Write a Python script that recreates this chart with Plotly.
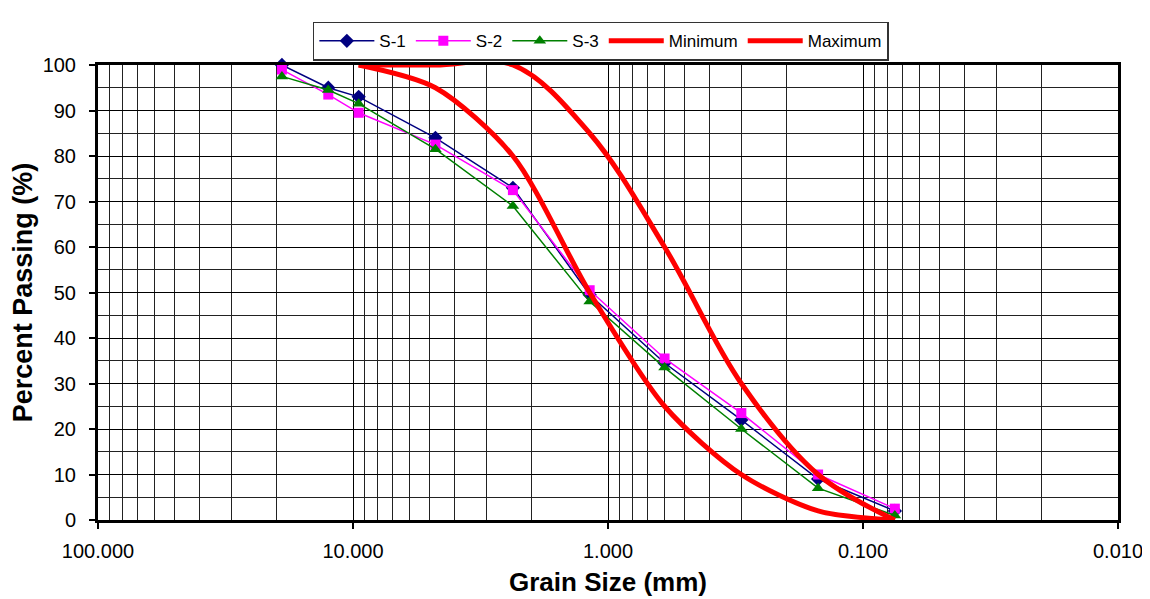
import plotly.graph_objects as go

# Sieve sizes (mm)
sieves = [19.0, 12.5, 9.5, 4.75, 2.36, 1.18, 0.6, 0.3, 0.15, 0.075]
s1 = [100, 95, 93, 84, 73, 49.5, 34.5, 22, 9, 2]
s2 = [99, 93.5, 89.5, 82.5, 72.5, 50.5, 35.5, 23.5, 10, 2.5]
s3 = [97.5, 94.5, 91.5, 81.5, 69, 48, 33.5, 20, 7, 1]

limit_sizes = [9.5, 4.75, 2.36, 1.18, 0.6, 0.3, 0.15, 0.075]
minimum = [100, 95, 80, 50, 25, 10, 2, 0]
maximum = [100, 100, 100, 85, 60, 30, 10, 0]

x_tickvals = [100, 10, 1, 0.1, 0.01]
x_ticktext = ["100.000", "10.000", "1.000", "0.100", "0.010"]
y_tickvals = list(range(0, 101, 10))

fig = go.Figure()
fig.add_trace(go.Scatter(x=sieves, y=s1, name="S-1", mode="lines+markers",
                         line=dict(color="#000080", width=1.5),
                         marker=dict(symbol="diamond", size=11, color="#000080"),
                         cliponaxis=False))
fig.add_trace(go.Scatter(x=sieves, y=s2, name="S-2", mode="lines+markers",
                         line=dict(color="#FF00FF", width=1.5),
                         marker=dict(symbol="square", size=10, color="#FF00FF"),
                         cliponaxis=False))
fig.add_trace(go.Scatter(x=sieves, y=s3, name="S-3", mode="lines+markers",
                         line=dict(color="#008000", width=1.5),
                         marker=dict(symbol="triangle-up", size=11, color="#008000"),
                         cliponaxis=False))
fig.add_trace(go.Scatter(x=limit_sizes, y=minimum, name="Minimum", mode="lines",
                         line=dict(color="#FF0000", width=5, shape="spline", smoothing=0.8)))
fig.add_trace(go.Scatter(x=limit_sizes, y=maximum, name="Maximum", mode="lines",
                         line=dict(color="#FF0000", width=5, shape="spline", smoothing=1.0)))

fig.update_layout(
    width=1150, height=599,
    margin=dict(l=80, r=40, t=57, b=87),
    paper_bgcolor="white", plot_bgcolor="white",
    font=dict(family="Liberation Sans, Arial, sans-serif", color="black"),
    showlegend=True,
    legend=dict(orientation="h", x=0.493, xanchor="center", y=1.095, yanchor="top",
                bordercolor="#333333", borderwidth=1.5, bgcolor="white",
                font=dict(size=17), itemwidth=55, tracegroupgap=0),
)
fig.update_xaxes(
    type="log", range=[2, -2],
    tickvals=x_tickvals, ticktext=x_ticktext,
    tickfont=dict(size=20),
    ticks="outside", ticklen=6, tickcolor="black", tickwidth=1.5,
    ticklabelstandoff=5,
    showgrid=True, gridcolor="black", gridwidth=1,
    minor=dict(dtick="D1", showgrid=True, gridcolor="#222222", gridwidth=1, ticks=""),
    showline=True, linecolor="black", linewidth=3, mirror=True,
    title=dict(text="<b>Grain Size (mm)</b>", font=dict(size=26), standoff=12),
    zeroline=False,
)
fig.update_yaxes(
    range=[0, 100],
    tickvals=y_tickvals,
    tickfont=dict(size=20),
    ticks="outside", ticklen=6, tickcolor="black", tickwidth=1.5,
    ticklabelstandoff=9,
    showgrid=True, gridcolor="black", gridwidth=1,
    minor=dict(dtick=5, showgrid=True, gridcolor="#222222", gridwidth=1, ticks=""),
    showline=True, linecolor="black", linewidth=3, mirror=True,
    title=dict(text="<b>Percent Passing (%)</b>", font=dict(size=27), standoff=4),
    zeroline=False,
)

fig.write_html("out.html")
